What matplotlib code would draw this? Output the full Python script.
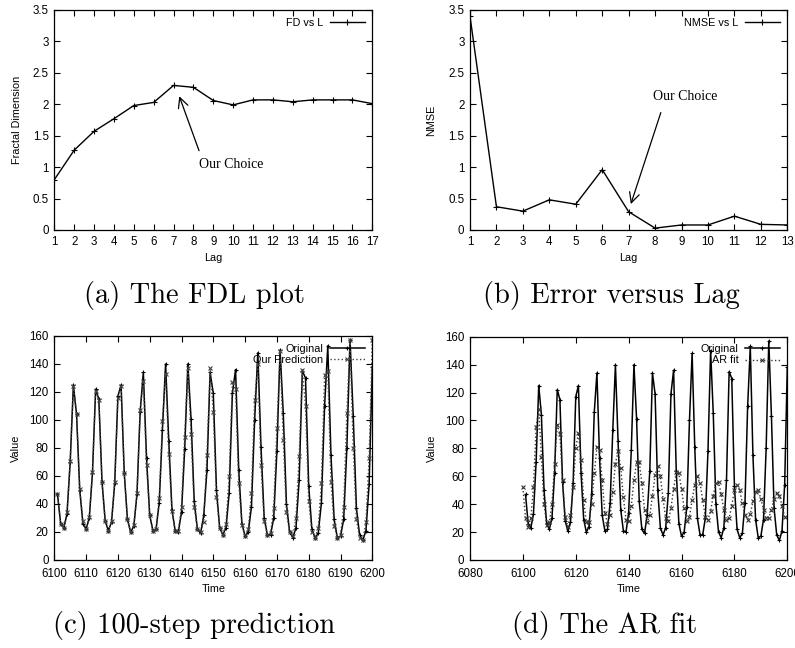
import numpy as np
import matplotlib
matplotlib.use('Agg')
import matplotlib.pyplot as plt

# panel (a): fractal dimension vs lag
lagsA = list(range(1, 18))
fd = [0.80, 1.27, 1.57, 1.77, 1.98, 2.03, 2.30, 2.27, 2.06, 1.99, 2.07, 2.07, 2.04, 2.07, 2.07, 2.07, 2.01]

# panel (b): NMSE vs lag
lagsB = list(range(1, 14))
nmse = [3.40, 0.37, 0.30, 0.48, 0.41, 0.96, 0.29, 0.03, 0.08, 0.08, 0.22, 0.09, 0.08]

# original series, t = 6101..6200
timeOrig = list(range(6101, 6201))
original = [47, 26, 23, 33, 70, 125, 104, 50, 26, 22,
            30, 62, 122, 115, 56, 28, 21, 27, 55, 117,
            125, 62, 29, 20, 24, 47, 106, 134, 73, 32,
            21, 22, 41, 93, 140, 85, 36, 21, 20, 34,
            79, 140, 101, 42, 22, 19, 32, 64, 134, 119,
            50, 23, 18, 23, 48, 119, 136, 64, 26, 17,
            20, 38, 100, 148, 81, 30, 18, 18, 30, 78,
            150, 105, 40, 20, 16, 23, 57, 135, 130, 53,
            22, 16, 19, 41, 110, 153, 75, 29, 16, 17,
            29, 80, 157, 103, 37, 18, 14, 21, 54, 138]

# our prediction, t = 6101..6200
prediction = [47, 26, 23, 34, 71, 124, 104, 51, 28, 22,
              31, 63, 121, 114, 56, 28, 21, 28, 56, 116,
              124, 62, 29, 20, 25, 48, 107, 128, 68, 32,
              21, 22, 44, 99, 133, 76, 35, 21, 21, 38,
              88, 137, 90, 38, 22, 20, 27, 75, 137, 106,
              45, 23, 18, 26, 60, 127, 122, 55, 25, 17,
              22, 48, 114, 140, 68, 28, 18, 19, 37, 94,
              149, 86, 34, 20, 17, 30, 74, 136, 110, 42,
              20, 16, 23, 55, 132, 135, 56, 24, 16, 18,
              38, 105, 157, 80, 29, 16, 14, 27, 73, 157]

# AR fit, t = 6100..6199
timeAR = list(range(6100, 6200))
arFit = [52, 30, 24, 30, 52, 95, 108, 74, 40, 25,
         27, 40, 69, 97, 90, 57, 31, 24, 32, 52,
         80, 91, 72, 43, 27, 27, 40, 62, 81, 79,
         57, 34, 26, 32, 49, 69, 78, 66, 45, 29,
         28, 39, 57, 70, 70, 55, 36, 27, 32, 46,
         61, 67, 60, 44, 30, 28, 37, 51, 63, 62,
         51, 37, 28, 31, 43, 54, 60, 55, 43, 31,
         29, 35, 46, 55, 56, 47, 36, 29, 30, 39,
         50, 54, 50, 41, 32, 29, 33, 42, 49, 50,
         44, 36, 30, 30, 36, 44, 48, 46, 39, 31]

W, H = 795, 648
sans = 'Liberation Sans'
serif = 'Liberation Serif'
tickSize = 8.3
labSize = 7.8


def add_ax(x0, y0, x1, y1):
    # pixel box (top-left origin) -> figure fraction
    return fig.add_axes([x0 / W, 1 - y1 / H, (x1 - x0) / W, (y1 - y0) / H])


def style(ax, xpad=4):
    ax.tick_params(direction='in', length=4, width=0.8, top=True, right=True,
                   labelsize=tickSize, pad=4)
    ax.tick_params(axis='x', pad=xpad)
    for lbl in ax.get_xticklabels() + ax.get_yticklabels():
        lbl.set_fontfamily(sans)
    for s in ax.spines.values():
        s.set_linewidth(0.9)


def key(ax):
    leg = ax.legend(loc='upper right', frameon=False, markerfirst=False,
                    prop={'family': sans, 'size': labSize}, handlelength=3.2,
                    handletextpad=0.6, borderaxespad=0.3, labelspacing=0.1)
    return leg


fig = plt.figure(figsize=(W / 100, H / 100), dpi=100)

# (a)
ax1 = add_ax(54.3, 10, 372.3, 230)
ax1.plot(lagsA, fd, color='black', lw=1.0, marker='+', ms=4, mew=0.8, label='FD vs L')
ax1.set_xlim(1, 17)
ax1.set_ylim(0, 3.5)
ax1.set_xticks(lagsA)
ax1.set_yticks([0, 0.5, 1, 1.5, 2, 2.5, 3, 3.5])
ax1.set_yticklabels(['0', '0.5', '1', '1.5', '2', '2.5', '3', '3.5'])
ax1.set_xlabel('Lag', fontfamily=sans, fontsize=labSize, labelpad=4)
ax1.set_ylabel('Fractal Dimension', fontfamily=sans, fontsize=labSize, labelpad=8)
ax1.annotate('', xy=(7.24, 2.17), xytext=(8.33, 1.22),
             arrowprops=dict(arrowstyle='->', color='black', lw=0.9, mutation_scale=18))
ax1.text(9.9, 1.05, 'Our Choice', fontfamily=serif, fontsize=10, ha='center', va='center')
style(ax1)
key(ax1)

# (b)
ax2 = add_ax(470, 10, 787.3, 230)
ax2.plot(lagsB, nmse, color='black', lw=1.0, marker='+', ms=4, mew=0.8, label='NMSE vs L')
ax2.set_xlim(1, 13)
ax2.set_ylim(0, 3.5)
ax2.set_xticks(lagsB)
ax2.set_yticks([0, 0.5, 1, 1.5, 2, 2.5, 3, 3.5])
ax2.set_yticklabels(['0', '0.5', '1', '1.5', '2', '2.5', '3', '3.5'])
ax2.set_xlabel('Lag', fontfamily=sans, fontsize=labSize, labelpad=4)
ax2.set_ylabel('NMSE', fontfamily=sans, fontsize=labSize, labelpad=9)
ax2.annotate('', xy=(7.05, 0.37), xytext=(8.25, 1.91),
             arrowprops=dict(arrowstyle='->', color='black', lw=0.9, mutation_scale=18))
ax2.text(9.15, 2.12, 'Our Choice', fontfamily=serif, fontsize=10, ha='center', va='center')
style(ax2)
key(ax2)

# (c)
ax3 = add_ax(54.3, 336, 372.3, 560)
ax3.plot(timeOrig, original, color='black', lw=1.1, marker='+', ms=3.5, mew=0.8, label='Original')
ax3.plot(timeOrig, prediction, color='#444444', lw=1.0, ls=':', marker='x', ms=3, mew=0.8,
         label='Our Prediction')
ax3.set_xlim(6100, 6200)
ax3.set_ylim(0, 160)
ax3.set_xticks(range(6100, 6201, 10))
ax3.set_yticks(range(0, 161, 20))
ax3.set_xlabel('Time', fontfamily=sans, fontsize=labSize, labelpad=3)
ax3.set_ylabel('Value', fontfamily=sans, fontsize=labSize, labelpad=6)
style(ax3, xpad=6)
key(ax3)

# (d)
ax4 = add_ax(470, 336.7, 787.3, 560)
ax4.plot(timeOrig, original, color='black', lw=1.1, marker='+', ms=3.5, mew=0.8, label='Original')
ax4.plot(timeAR, arFit, color='#333333', lw=1.0, ls=':', marker='x', ms=3, mew=0.8, label='AR fit')
ax4.set_xlim(6080, 6200)
ax4.set_ylim(0, 160)
ax4.set_xticks(range(6080, 6201, 20))
ax4.set_yticks(range(0, 161, 20))
ax4.set_xlabel('Time', fontfamily=sans, fontsize=labSize, labelpad=3)
ax4.set_ylabel('Value', fontfamily=sans, fontsize=labSize, labelpad=6)
style(ax4, xpad=6)
key(ax4)

# captions
capFont = dict(fontfamily='cmr10', fontsize=20.5, ha='center', va='center')
fig.text(194 / W, 1 - 295 / H, '(a) The FDL plot', **capFont)
fig.text(611 / W, 1 - 295 / H, '(b) Error versus Lag', **capFont)
fig.text(194 / W, 1 - 626 / H, '(c) 100-step prediction', **capFont)
fig.text(605 / W, 1 - 626 / H, '(d) The AR fit', **capFont)

fig.savefig('out.png', dpi=100)
